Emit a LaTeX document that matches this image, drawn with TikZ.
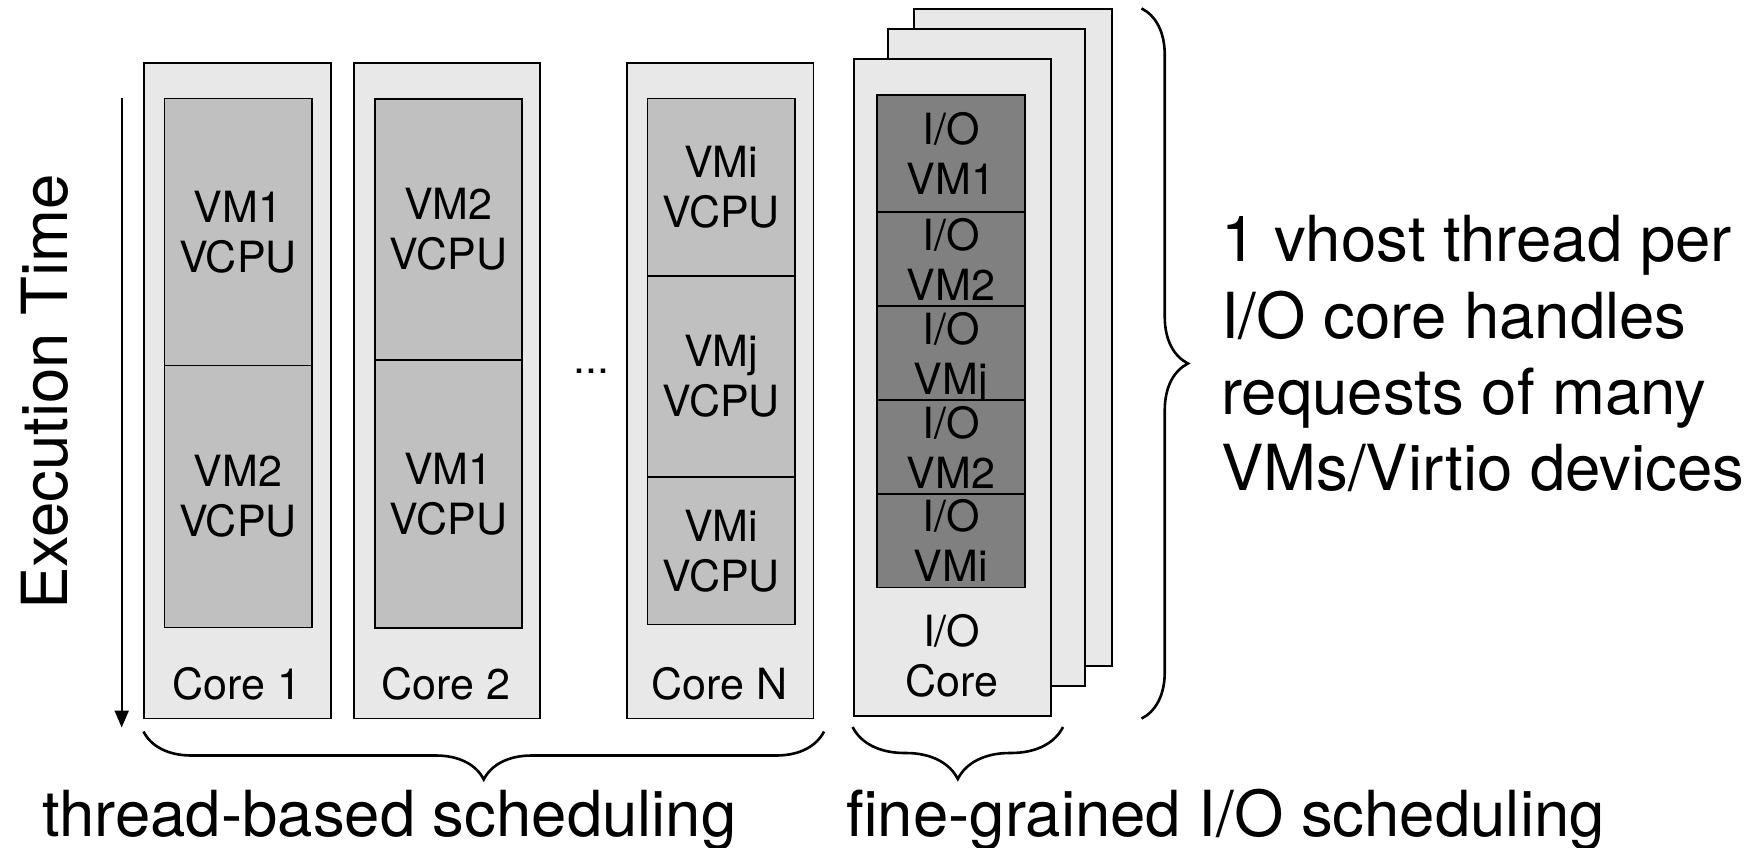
\documentclass[tikz,border=0pt]{standalone}
\usepackage{fontspec}
\setmainfont{TeX Gyre Heros}
\usetikzlibrary{arrows.meta,decorations.pathreplacing}
\definecolor{coregray}{HTML}{E8E8E8}
\definecolor{vcpugray}{HTML}{C0C0C0}
\definecolor{iogray}{HTML}{808080}
\newcommand{\cellfnt}{\fontsize{43}{50}\selectfont}
\newcommand{\bigfnt}{\fontsize{63.5}{76}\selectfont}
\begin{document}
\begin{tikzpicture}[x=1pt,y=-1pt,
  corebox/.style={draw=black, line width=1.8pt, fill=coregray, rectangle, inner sep=0pt,
    anchor=north west, minimum width=186.5pt, minimum height=655.5pt},
  cardbox/.style={draw=black, line width=1.8pt, fill=coregray, rectangle, inner sep=0pt,
    anchor=north west, minimum width=197.5pt, minimum height=657pt},
  vcpubox/.style={draw=black, line width=1.6pt, fill=vcpugray, rectangle, inner sep=0pt,
    anchor=north west, minimum width=147.4pt, align=center, font=\cellfnt},
  iobox/.style={draw=black, line width=1.6pt, fill=iogray, rectangle, inner sep=0pt,
    anchor=north west, minimum width=148pt, align=center, font=\cellfnt},
  lbl/.style={inner sep=0pt, align=center, font=\cellfnt},
  bigtext/.style={inner sep=0pt, font=\bigfnt},
  bracestyle/.style={decorate, decoration={brace, amplitude=#1}, line width=2.6pt}
]
\useasboundingbox (0,0) rectangle (1758,848);
\fill[white] (0,0) rectangle (1758,848);

% Execution time axis
\node[bigtext, rotate=90] (exec) at (45,392) {Execution Time};
\coordinate (axtop) at (121.7,97.6);
\coordinate (axbot) at (121.7,727.5);
\draw[line width=2.2pt, -{Triangle[width=14pt,length=17pt]}] (axtop) -- (axbot);

% Core 1
\node[corebox] (core1) at (143.4,62) {};
\node[vcpubox, minimum height=267.2pt] (c1a) at (163.5,97.6) {VM1\\VCPU};
\node[vcpubox, minimum height=262pt] (c1b) at (163.5,364.8) {VM2\\VCPU};
\node[lbl] (l1) at (236.6,684) {Core 1};

% Core 2
\node[corebox] (core2) at (352.8,62) {};
\node[vcpubox, minimum height=260.5pt] (c2a) at (374,98.5) {VM2\\VCPU};
\node[vcpubox, minimum height=268pt] (c2b) at (374,359) {VM1\\VCPU};
\node[lbl] (l2) at (446,684) {Core 2};

% dots
\node[lbl, anchor=base] (dots) at (591.5,373) {...};

% Core N
\node[corebox] (coreN) at (626,62) {};
\node[vcpubox, minimum height=177.5pt] (cna) at (646.7,97.6) {VMi\\VCPU};
\node[vcpubox, minimum height=201.3pt] (cnb) at (646.7,275.1) {VMj\\VCPU};
\node[vcpubox, minimum height=147.2pt] (cnc) at (646.7,476.4) {VMi\\VCPU};
\node[lbl] (lN) at (719.2,684) {Core N};

% I/O core stack
\node[cardbox] (card3) at (913.3,8.3) {};
\node[cardbox] (card2) at (886.7,28.3) {};
\node[cardbox] (card1) at (852.7,58) {};
\node[iobox, minimum height=117pt] (io1) at (876,94.3) {I/O\\VM1};
\node[iobox, minimum height=93.7pt] (io2) at (876,211.3) {I/O\\VM2};
\node[iobox, minimum height=94.3pt] (io3) at (876,305) {I/O\\VM\smash{j}};
\node[iobox, minimum height=94pt] (io4) at (876,399.3) {I/O\\VM2};
\node[iobox, minimum height=93.4pt] (io5) at (876,493.3) {I/O\\VMi};
\node[lbl] (lio) at (951.7,656) {I/O\\Core};

% braces
\coordinate (b1r) at (824,731.5);
\coordinate (b1l) at (143.5,731.5);
\draw[bracestyle=48pt] (b1r) -- (b1l);
\coordinate (b2r) at (1063,727);
\coordinate (b2l) at (852.6,727);
\draw[bracestyle=52pt] (b2r) -- (b2l);
\coordinate (b3t) at (1141.5,8.4);
\coordinate (b3b) at (1141.5,718.6);
\draw[bracestyle=46.5pt] (b3t) -- (b3b);

% texts
\node[bigtext, anchor=base west] (t1) at (1221,261.7) {1 vhost thread per};
\node[bigtext, anchor=base west] (t2) at (1221,338) {I/O core handles};
\node[bigtext, anchor=base west] (t3) at (1221,414) {requests of many};
\node[bigtext, anchor=base west] (t4) at (1221,490) {VMs/Virtio devices};
\node[bigtext, anchor=base west] (thr) at (42,836) {thread-based scheduling};
\node[bigtext, anchor=base west] (fin) at (846,836) {fine-grained I/O scheduling};
\end{tikzpicture}
\end{document}
